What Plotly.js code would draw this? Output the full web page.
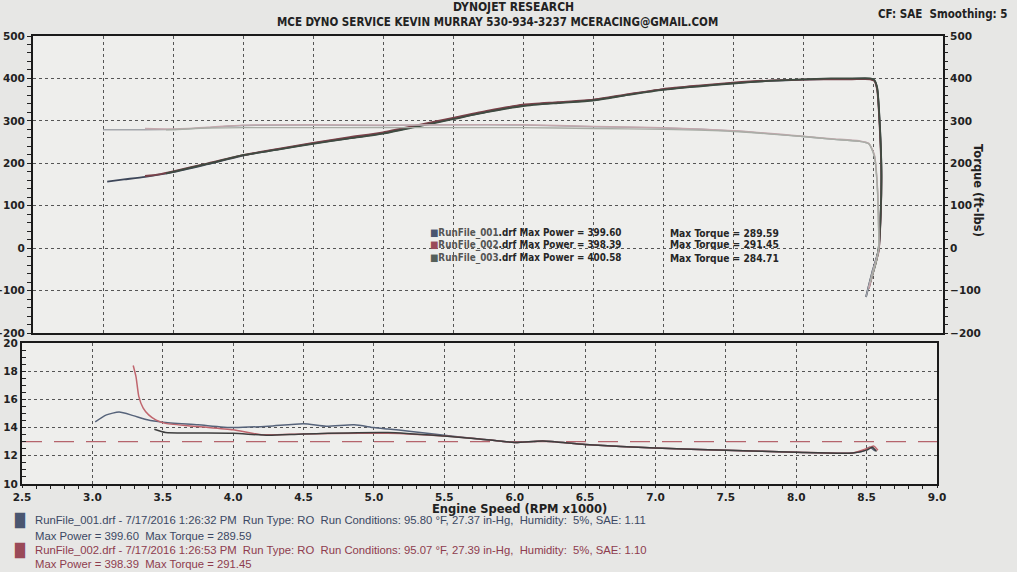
<!DOCTYPE html>
<html>
<head>
<meta charset="utf-8">
<script src="https://cdn.plot.ly/plotly-3.0.1.min.js"></script>
<style>
html,body{margin:0;padding:0;background:#e7e7e5;}
#chart{width:1017px;height:572px;}
</style>
</head>
<body>
<div id="chart"></div>
<script>
// ---------- DATA (read from the dyno sheet) ----------
const runNames   = ["RunFile_001.drf", "RunFile_002.drf", "RunFile_003.drf"];
const maxPower   = ["399.60", "398.39", "400.58"];
const maxTorque  = ["289.59", "291.45", "284.71"];
const runDates   = ["7/17/2016 1:26:32 PM", "7/17/2016 1:26:53 PM"];
const runTemps   = ["95.80", "95.07"];
const runBaro    = ["27.37", "27.39"];
const runHumid   = ["5%", "5%"];
const runSAE     = ["1.11", "1.10"];

// Power (HP) vs RPM x1000
const rpmP1 = [3.03,3.15,3.3,3.5,3.75,4.0,4.25,4.5,4.75,5.0,5.25,5.5,5.75,6.0,6.25,6.5,6.75,7.0,7.25,7.5,7.75,8.0,8.2,8.35,8.48,8.51,8.53,8.55,8.56,8.555,8.54,8.5,8.45];
const hp1   = [157,162,168,179,198,218,233,247,259,271,288,305,322,336,343,349,362,374,382,389,394,397,399,399,399,395,376,280,178,80,-4,-50,-115];
const rpmP2 = [3.3,3.4,3.5,3.75,4.0,4.25,4.5,4.75,5.0,5.25,5.5,5.75,6.0,6.25,6.5,6.75,7.0,7.25,7.5,7.75,8.0,8.2,8.35,8.48,8.51,8.53,8.55,8.56,8.555,8.54,8.51,8.47];
const hp2   = [170,174,181,200,219,234,248,261,273,290,307,324,338,344,350,363,375,383,390,395,397,398,398,398,394,372,270,170,75,-8,-45,-95];
const rpmP3 = [3.45,3.5,3.75,4.0,4.25,4.5,4.75,5.0,5.25,5.5,5.75,6.0,6.25,6.5,6.75,7.0,7.25,7.5,7.75,8.0,8.2,8.35,8.48,8.51,8.53,8.55,8.56,8.555,8.54,8.52,8.48];
const hp3   = [176,180,199,219,232,246,258,270,287,304,321,335,342,348,361,373,381,388,394,398,400,400,400,396,378,285,182,85,0,-35,-80];

// Torque (ft-lbs) vs RPM x1000
const rpmT1 = [3.0,3.25,3.5,3.75,4.0,4.5,5.0,5.5,6.0,6.5,7.0,7.5,8.0,8.2,8.4,8.47,8.51,8.53,8.54,8.54,8.5,8.45];
const tq1   = [279,279,280,284,289,290,289,291,290,286,283,276,263,257,252,246,218,150,50,-4,-50,-115];
const rpmT2 = [3.3,3.5,3.75,4.0,4.5,5.0,5.5,6.0,6.5,7.0,7.5,8.0,8.2,8.4,8.47,8.51,8.53,8.54,8.54,8.51,8.47];
const tq2   = [282,281,285,290,291,290,291,291,287,284,277,264,258,253,247,220,155,55,-6,-45,-95];
const rpmT3 = [3.45,3.5,3.75,4.0,4.5,5.0,5.5,6.0,6.5,7.0,7.5,8.0,8.2,8.4,8.47,8.51,8.53,8.54,8.54,8.52,8.48];
const tq3   = [279,279,283,284,284,284,284,284,282,280,275,263,257,252,246,216,148,48,-2,-35,-80];

// Air/Fuel ratio vs RPM x1000
const rpmA1 = [3.02,3.1,3.19,3.29,3.39,3.5,3.75,4.0,4.25,4.5,4.66,4.86,5.0,5.1,5.25,5.5,5.75,6.0,6.2,6.5,7.0,7.5,8.0,8.4,8.48,8.52,8.56];
const afr1  = [14.4,14.9,15.1,14.85,14.55,14.38,14.2,14.0,14.1,14.28,14.1,14.2,14.0,13.9,13.75,13.45,13.2,12.95,13.05,12.8,12.55,12.4,12.25,12.2,12.35,12.6,12.35];
const rpmA2 = [3.29,3.31,3.33,3.36,3.4,3.45,3.52,3.75,4.0,4.2,4.5,4.9,5.1,5.5,5.75,6.0,6.2,6.5,7.0,7.5,8.0,8.4,8.5,8.55,8.58];
const afr2  = [18.4,17.6,16.2,15.4,14.9,14.55,14.3,14.07,13.84,13.5,13.55,13.6,13.6,13.4,13.2,12.95,13.05,12.8,12.55,12.4,12.25,12.2,12.5,12.7,12.4];
const rpmA3 = [3.44,3.52,3.75,4.0,4.25,4.5,5.1,5.5,5.75,6.0,6.2,6.5,7.0,7.5,8.0,8.4,8.5,8.54,8.57];
const afr3  = [13.88,13.65,13.62,13.6,13.45,13.55,13.65,13.4,13.2,12.95,13.05,12.8,12.55,12.4,12.25,12.2,12.4,12.6,12.3];
const afrTarget = 13.0;

const rpmRange = [2.5, 9.0];
const hpRange = [-200, 500];
const afrRange = [10, 20];

// ---------- STYLE ----------
const powerColors  = ["#3d4659", "#7a4149", "#3f4b41"];
const torqueColors = ["#a3a6ab", "#c4a8ad", "#a9ada6"];
const afrColors    = ["#56637a", "#c0666e", "#3e3e3e"];
const swatchColors = ["#4a5670", "#9a4a58", "#56605a"];
const infoColors   = ["#3b4763", "#8e3c4e"];

const W = 1017, H = 572;
const M = {l: 18, r: 74, t: 36, b: 88};
const PW = W - M.l - M.r, PH = H - M.t - M.b;
const px = x => (x - M.l) / PW;
const py = y => (H - M.b - y) / PH;

const boldFont = {family: "DejaVu Sans", size: 10.5, color: "#222", weight: "bold"};
const condBold = {family: "DejaVu Sans Condensed, DejaVu Sans", size: 11, color: "#222", weight: "bold"};
const narrow   = {family: "Liberation Sans Narrow, Liberation Sans", size: 11.3};

const traces = [];
[[rpmP1,hp1],[rpmP2,hp2],[rpmP3,hp3]].forEach((d,i)=>{
  traces.push({x:d[0], y:d[1], xaxis:"x2", yaxis:"y2", mode:"lines", line:{color:powerColors[i], width:1.8, shape:"spline", smoothing:0.6}, showlegend:false, hoverinfo:"skip"});
});
[[rpmT1,tq1],[rpmT2,tq2],[rpmT3,tq3]].forEach((d,i)=>{
  traces.push({x:d[0], y:d[1], xaxis:"x2", yaxis:"y3", mode:"lines", line:{color:torqueColors[i], width:1.4, shape:"spline", smoothing:0.6}, showlegend:false, hoverinfo:"skip"});
});
traces.push({x:rpmRange, y:[afrTarget, afrTarget], xaxis:"x", yaxis:"y", mode:"lines", line:{color:"#b5646c", width:1.3, dash:"20px,12px"}, showlegend:false, hoverinfo:"skip"});
[[rpmA1,afr1],[rpmA2,afr2],[rpmA3,afr3]].forEach((d,i)=>{
  traces.push({x:d[0], y:d[1], xaxis:"x", yaxis:"y", mode:"lines", line:{color:afrColors[i], width:1.5, shape:"spline", smoothing:0.6}, showlegend:false, hoverinfo:"skip"});
});

const gridStyle = {showgrid:true, gridcolor:"#555", gridwidth:1, griddash:"dot"};
const frame = {showline:true, linecolor:"#1a1a1a", linewidth:2, mirror:true, zeroline:false};

const topDomain = [py(333), 1];
const botDomain = [0, py(343)];

const layout = {
  width: W, height: H,
  margin: M,
  paper_bgcolor: "#e7e7e5",
  plot_bgcolor: "#eeeeec",
  showlegend: false,
  xaxis: Object.assign({anchor:"y", domain:[px(22), px(937)], range:rpmRange, dtick:0.5, tick0:2.5, tickformat:".1f",
    ticks:"outside", ticklen:2, tickcolor:"#222", tickfont:boldFont,
    minor:{dtick:0.1, ticks:"outside", ticklen:3, tickcolor:"#222", showgrid:false}}, gridStyle, frame),
  yaxis: Object.assign({anchor:"x", domain:botDomain, range:afrRange, dtick:2,
    ticks:"inside", ticklen:4, tickcolor:"#222", tickfont:boldFont,
    minor:{dtick:0.5, ticks:"inside", ticklen:4, tickcolor:"#222", showgrid:false}}, gridStyle, frame),
  xaxis2: Object.assign({anchor:"y2", domain:[px(33), px(943)], range:rpmRange, dtick:0.5, tick0:2.5, showticklabels:false, ticks:""}, gridStyle, frame),
  yaxis2: Object.assign({anchor:"x2", domain:topDomain, range:hpRange, dtick:100,
    ticks:"outside", ticklen:4, tickcolor:"#222", tickfont:boldFont,
    minor:{dtick:20, ticks:"outside", ticklen:4, tickcolor:"#222", showgrid:false}}, gridStyle, frame),
  yaxis3: {anchor:"x2", overlaying:"y2", side:"right", range:hpRange, dtick:100, showgrid:false, zeroline:false,
    ticks:"outside", ticklen:4, tickcolor:"#222", tickfont:boldFont, showline:false,
    minor:{dtick:20, ticks:"outside", ticklen:4, tickcolor:"#222", showgrid:false}},
  annotations: [],
};

const ann = layout.annotations;
ann.push({xref:"paper", yref:"paper", x:px(513), y:py(7), text:"DYNOJET RESEARCH", showarrow:false, xanchor:"center", yanchor:"middle", font:Object.assign({}, condBold, {size:12})});
ann.push({xref:"paper", yref:"paper", x:px(497), y:py(22), text:"MCE DYNO SERVICE KEVIN MURRAY 530-934-3237 MCERACING@GMAIL.COM", showarrow:false, xanchor:"center", yanchor:"middle", font:Object.assign({}, condBold, {size:11.5})});
ann.push({xref:"paper", yref:"paper", x:px(1010), y:py(14), text:"CF: SAE  Smoothing: 5", showarrow:false, xanchor:"right", yanchor:"middle", font:Object.assign({}, condBold, {size:11.5})});
ann.push({xref:"paper", yref:"paper", x:px(978), y:py(190), text:"Torque (ft-lbs)", textangle:90, showarrow:false, xanchor:"center", yanchor:"middle", font:Object.assign({}, boldFont, {size:11.5})});
ann.push({xref:"paper", yref:"paper", x:px(519), y:py(509), text:"Engine Speed (RPM x1000)", showarrow:false, xanchor:"center", yanchor:"middle", font:Object.assign({}, boldFont, {size:11.5})});

const legY = [233, 245, 258];
runNames.forEach((n,i)=>{
  ann.push({xref:"paper", yref:"paper", x:px(428), y:py(legY[i]), showarrow:false, xanchor:"left", yanchor:"middle",
    text:"<span style='color:"+swatchColors[i]+"'>■</span><span style='color:#555'>"+n.replace(".drf","")+"</span>.drf Max Power = "+maxPower[i],
    font:Object.assign({}, condBold, {size:9.8, color:"#262626"})});
  ann.push({xref:"paper", yref:"paper", x:px(668), y:py(legY[i]), showarrow:false, xanchor:"left", yanchor:"middle",
    text:"Max Torque = "+maxTorque[i], font:Object.assign({}, condBold, {size:10.2, color:"#262626"})});
});

const infoY = [[520,536],[550,564]];
runDates.forEach((d,i)=>{
  ann.push({xref:"paper", yref:"paper", x:px(12), y:py(infoY[i][0]), showarrow:false, xanchor:"left", yanchor:"middle",
    text:"<span style='color:"+swatchColors[i]+"'>█</span>", font:{family:"DejaVu Sans", size:13, color:swatchColors[i]}});
  ann.push({xref:"paper", yref:"paper", x:px(33), y:py(infoY[i][0]), showarrow:false, xanchor:"left", yanchor:"middle",
    text: runNames[i]+" - "+d+"  Run Type: RO  Run Conditions: "+runTemps[i]+" °F, "+runBaro[i]+" in-Hg,  Humidity:  "+runHumid[i]+", SAE: "+runSAE[i],
    font:Object.assign({}, narrow, {color:infoColors[i]})});
  ann.push({xref:"paper", yref:"paper", x:px(33), y:py(infoY[i][1]), showarrow:false, xanchor:"left", yanchor:"middle",
    text:"Max Power = "+maxPower[i]+"  Max Torque = "+maxTorque[i],
    font:Object.assign({}, narrow, {color:infoColors[i]})});
});

Plotly.newPlot("chart", traces, layout, {displayModeBar:false, staticPlot:true});
</script>
</body>
</html>
